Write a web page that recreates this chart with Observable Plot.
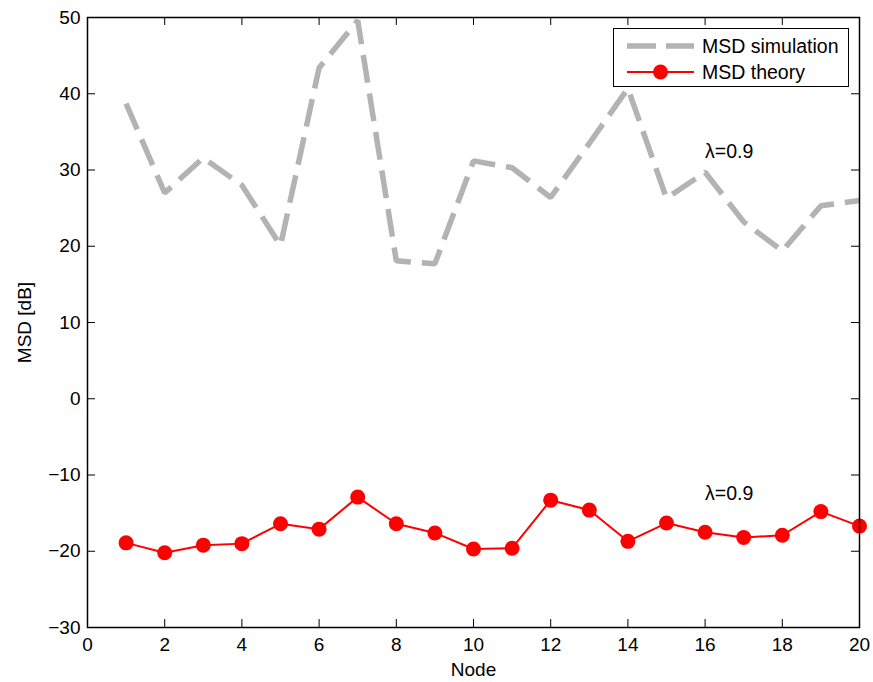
<!DOCTYPE html>
<html>
<head>
<meta charset="utf-8">
<script src="https://cdn.jsdelivr.net/npm/d3@7"></script>
<script src="https://cdn.jsdelivr.net/npm/@observablehq/plot@0.6"></script>
<style>
  body { margin: 0; background: #fff; }
  #wrap { position: relative; width: 873px; height: 682px; font-family: "Liberation Sans", Arial, Helvetica, sans-serif; }
  #legend { position: absolute; left: 613px; top: 28px; width: 234px; height: 57px; border: 1px solid #000; background: #fff; font-size: 19.5px; color: #000; }
  #legend .row { position: absolute; left: 0; height: 26px; display: flex; align-items: center; }
  #legend svg { display: block; margin-left: 13px; margin-right: 8px; }
</style>
</head>
<body>
<div id="wrap"></div>
<script>
const nodes = [1,2,3,4,5,6,7,8,9,10,11,12,13,14,15,16,17,18,19,20];
const msdSimulation = [38.7,27.0,31.6,28.0,20.1,43.4,49.6,18.1,17.7,31.2,30.3,26.4,33.5,40.7,26.3,29.7,23.2,19.4,25.3,26.0];
const msdTheory = [-18.9,-20.2,-19.2,-19.0,-16.4,-17.1,-12.9,-16.4,-17.6,-19.7,-19.6,-13.3,-14.6,-18.7,-16.3,-17.5,-18.2,-17.9,-14.8,-16.7];
const xTicks = [0,2,4,6,8,10,12,14,16,18,20];
const yTicks = [-30,-20,-10,0,10,20,30,40,50];
const seriesNames = ["MSD simulation", "MSD theory"];
const annX = [16, 16];
const annY = [32.4, -12.5];
const annText = ["λ=0.9", "λ=0.9"];

const simData = nodes.map((n, i) => ({node: n, msd: msdSimulation[i]}));
const theoData = nodes.map((n, i) => ({node: n, msd: msdTheory[i]}));
const annData = annX.map((x, i) => ({x, y: annY[i], t: annText[i]}));
const fmt = d => d < 0 ? "\u2212" + Math.abs(d) : String(d);

const W = 873, H = 682, mL = 87, mR = 14, mT = 17, mB = 55;
const innerW = W - mL - mR, innerH = H - mT - mB, tick = 8;

const chart = Plot.plot({
  width: W, height: H,
  marginLeft: mL, marginRight: mR, marginTop: mT, marginBottom: mB,
  style: {fontFamily: '"Liberation Sans", Arial, Helvetica, sans-serif', fontSize: "19px", color: "#000", background: "#fff"},
  x: {domain: [0, 20]},
  y: {domain: [-30, 50]},
  marks: [
    Plot.axisX({ticks: xTicks, tickSize: 0, tickPadding: 10, tickFormat: fmt, label: "Node", labelAnchor: "center", labelArrow: "none", labelOffset: 48}),
    Plot.axisY({ticks: yTicks, tickSize: 0, tickPadding: 7, tickFormat: fmt, label: "MSD [dB]", labelAnchor: "center", labelArrow: "none", labelOffset: 70}),
    Plot.tickX(xTicks, {x: d => d, insetTop: innerH - tick, stroke: "#000", strokeWidth: 1}),
    Plot.tickX(xTicks, {x: d => d, insetBottom: innerH - tick, stroke: "#000", strokeWidth: 1}),
    Plot.tickY(yTicks, {y: d => d, insetRight: innerW - tick, stroke: "#000", strokeWidth: 1}),
    Plot.tickY(yTicks, {y: d => d, insetLeft: innerW - tick, stroke: "#000", strokeWidth: 1}),
    Plot.line(simData, {x: "node", y: "msd", stroke: "#b3b3b3", strokeWidth: 5.5, strokeDasharray: "28,11", strokeLinecap: "butt", strokeLinejoin: "miter"}),
    Plot.line(theoData, {x: "node", y: "msd", stroke: "#ff0000", strokeWidth: 2}),
    Plot.dot(theoData, {x: "node", y: "msd", r: 7.5, fill: "#ff0000", stroke: "none"}),
    Plot.text(annData, {x: "x", y: "y", text: "t", textAnchor: "start", fontSize: 19.5, fill: "#000"}),
    Plot.frame({stroke: "#000", strokeWidth: 1.5})
  ]
});

const wrap = document.getElementById("wrap");
wrap.appendChild(chart);

const legend = document.createElement("div");
legend.id = "legend";
legend.innerHTML = `
  <div class="row" style="top:4px">
    <svg width="67" height="12"><line x1="0" y1="6" x2="67" y2="6" stroke="#b3b3b3" stroke-width="5.5" stroke-dasharray="29,10"/></svg>
    <span>${seriesNames[0]}</span>
  </div>
  <div class="row" style="top:30px">
    <svg width="67" height="16"><line x1="0" y1="8" x2="67" y2="8" stroke="#ff0000" stroke-width="2"/><circle cx="33.5" cy="8" r="7.5" fill="#ff0000"/></svg>
    <span>${seriesNames[1]}</span>
  </div>`;
wrap.appendChild(legend);
</script>
</body>
</html>
